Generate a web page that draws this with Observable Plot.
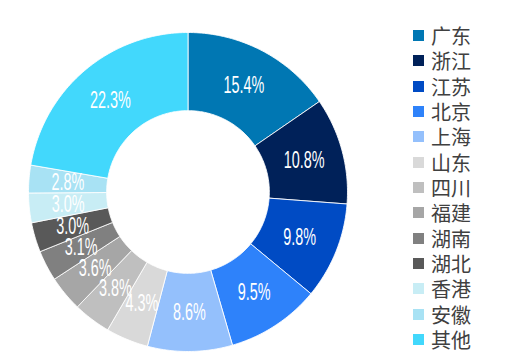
<!DOCTYPE html>
<html>
<head>
<meta charset="utf-8">
<script src="https://cdn.jsdelivr.net/npm/d3@7"></script>
<script src="https://cdn.jsdelivr.net/npm/@observablehq/plot@0.6"></script>
<style>
  html, body { margin: 0; padding: 0; background: #fff; }
  #wrap { position: relative; width: 507px; height: 362px; overflow: hidden; }
  #chart { position: absolute; left: 0; top: 0; }
  #legend { position: absolute; left: 413px; top: 23px; font-family: "Noto Sans CJK SC", sans-serif; }
  #legend > div { font-size: 20px; color: #404040; font-family: "Noto Sans CJK SC", sans-serif; columns: auto !important; }
  #legend > div > div { display: flex; align-items: center; height: 25.33px; padding: 0; margin: 0; }
  #legend svg { margin-right: 7px; flex-shrink: 0; }
  #legend > div > div > div { line-height: 25px; overflow: visible; }
</style>
</head>
<body>
<div id="wrap">
  <div id="chart"></div>
  <div id="legend"></div>
</div>
<script>
const provinces = ["广东", "浙江", "江苏", "北京", "上海", "山东", "四川", "福建", "湖南", "湖北", "香港", "安徽", "其他"];
const shares = [15.4, 10.8, 9.8, 9.5, 8.6, 4.3, 3.8, 3.6, 3.1, 3.0, 3.0, 2.8, 22.3];
const labels = ["15.4%", "10.8%", "9.8%", "9.5%", "8.6%", "4.3%", "3.8%", "3.6%", "3.1%", "3.0%", "3.0%", "2.8%", "22.3%"];
const colors = ["#0077B3", "#002159", "#004BC4", "#2E82FA", "#94C0FC", "#D9D9D9", "#BFBFBF", "#A6A6A6", "#808080", "#595959", "#C8EDF5", "#A8E2F4", "#42D8FC"];

const outerR = 1, innerR = 0.51, labelR = (outerR + innerR) / 2;

const rows = provinces.map((name, i) => ({name, value: shares[i], label: labels[i]}));
const arcs = d3.pie().sort(null).value(d => d.value)(rows);

// Polygon outlines of each donut slice in data units (angle from top, clockwise)
const slicePts = [];
for (const a of arcs) {
  const n = Math.max(4, Math.ceil((a.endAngle - a.startAngle) / (Math.PI / 180)));
  const pts = [];
  for (let k = 0; k <= n; k++) {
    const t = a.startAngle + (a.endAngle - a.startAngle) * k / n;
    pts.push([outerR * Math.sin(t), outerR * Math.cos(t)]);
  }
  for (let k = n; k >= 0; k--) {
    const t = a.startAngle + (a.endAngle - a.startAngle) * k / n;
    pts.push([innerR * Math.sin(t), innerR * Math.cos(t)]);
  }
  pts.push(pts[0]);
  for (const [x, y] of pts) slicePts.push({name: a.data.name, x, y});
}
const labelPts = arcs.map(a => {
  const t = (a.startAngle + a.endAngle) / 2;
  return {name: a.data.name, label: a.data.label, x: labelR * Math.sin(t), y: labelR * Math.cos(t)};
});

const plot = Plot.plot({
  width: 507,
  height: 362,
  marginLeft: 28,
  marginRight: 160,
  marginTop: 32,
  marginBottom: 11,
  x: {domain: [-1, 1], axis: null},
  y: {domain: [-1, 1], axis: null},
  color: {domain: provinces, range: colors},
  marks: [
    Plot.line(slicePts, {x: "x", y: "y", z: "name", fill: "name", stroke: "white", strokeWidth: 1, strokeOpacity: 0.85, curve: "linear"}),
    Plot.text(labelPts, {x: "x", y: "y", text: "label", fill: "white", fontSize: 24, fontFamily: "Liberation Sans, Arial, sans-serif", textAnchor: "middle", lineAnchor: "middle"})
  ]
});
document.getElementById("chart").appendChild(plot);

// Condense the slice labels horizontally
plot.querySelectorAll('g[aria-label="text"] text').forEach(t => {
  const tr = t.getAttribute("transform");
  if (tr) {
    t.setAttribute("transform", tr + " scale(0.6,1)");
  } else {
    const x = +t.getAttribute("x") || 0, y = +t.getAttribute("y") || 0;
    t.removeAttribute("x"); t.removeAttribute("y");
    t.setAttribute("transform", `translate(${x},${y}) scale(0.6,1)`);
  }
});

const leg = Plot.legend({
  color: {domain: provinces, range: colors},
  legend: "swatches",
  columns: 1,
  swatchSize: 11
});
document.getElementById("legend").appendChild(leg);
</script>
</body>
</html>
